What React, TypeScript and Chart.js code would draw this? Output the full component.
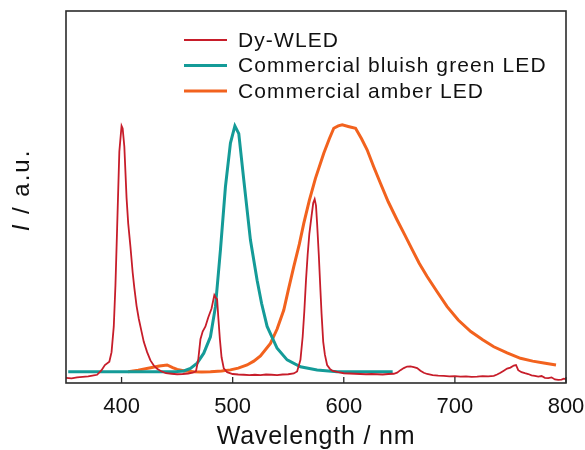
import React, { useEffect, useRef } from "react";
import { Chart, registerables } from "chart.js";

Chart.register(...registerables);

// ---------- data ----------
const xTickValues = [400, 500, 600, 700, 800];
const seriesLabels = ["Dy-WLED", "Commercial bluish green LED", "Commercial amber LED"];
const xTitle = "Wavelength / nm";
const yTitleItalic = "I";
const yTitleRest = " / a.u.";

const dyWavelength = [
  350, 355, 360, 365, 370, 375, 378, 382, 385, 389, 391, 393, 394.5, 396, 398, 400, 401, 402.5, 404.5, 406,
  408, 410, 411.5, 413.5, 415.5, 418, 420, 423, 426, 429, 432, 436, 440, 445, 450, 455, 460, 464, 467, 469,
  471, 473, 475.5, 478, 481, 483.5, 485, 486, 487, 488.5, 490, 492, 495, 500, 505, 510, 515, 520, 525, 530,
  535, 540, 545, 550, 555, 558, 561, 563, 564.5, 566, 567.5, 569, 571, 572.5, 573.8, 575, 576, 577.5, 579, 580,
  581.5, 583, 585, 587.5, 590, 595, 600, 605, 610, 615, 620, 625, 630, 635, 640, 645, 648, 651, 654, 657,
  660, 663, 666, 669, 672, 675, 680, 685, 690, 695, 700, 705, 710, 715, 720, 725, 730, 735, 738, 741,
  744, 747, 750, 753, 755, 757, 760, 763, 766, 769, 772, 775, 778, 781, 784, 787, 790, 793, 796, 798, 800,
];
const dyIntensity = [
  0.020, 0.018, 0.022, 0.024, 0.026, 0.030, 0.032, 0.050, 0.070, 0.083, 0.120, 0.220, 0.380, 0.600, 0.900, 1.000, 0.990, 0.920, 0.720, 0.620,
  0.530, 0.430, 0.370, 0.300, 0.250, 0.200, 0.160, 0.120, 0.088, 0.068, 0.055, 0.045, 0.038, 0.036, 0.034, 0.035, 0.037, 0.040, 0.046, 0.090,
  0.170, 0.200, 0.220, 0.255, 0.290, 0.342, 0.330, 0.326, 0.260, 0.170, 0.100, 0.057, 0.042, 0.035, 0.033, 0.032, 0.031, 0.032, 0.031, 0.033,
  0.032, 0.031, 0.033, 0.034, 0.037, 0.045, 0.090, 0.180, 0.280, 0.400, 0.500, 0.580, 0.650, 0.700, 0.715, 0.690, 0.620, 0.500, 0.360, 0.270,
  0.160, 0.110, 0.070, 0.055, 0.047, 0.042, 0.038, 0.037, 0.036, 0.035, 0.034, 0.035, 0.034, 0.033, 0.035, 0.036, 0.040, 0.050, 0.058, 0.064,
  0.065, 0.062, 0.058, 0.048, 0.040, 0.035, 0.031, 0.029, 0.028, 0.026, 0.027, 0.025, 0.026, 0.024, 0.025, 0.027, 0.026, 0.028, 0.033, 0.040,
  0.048, 0.056, 0.060, 0.068, 0.070, 0.050, 0.042, 0.038, 0.035, 0.030, 0.028, 0.025, 0.027, 0.020, 0.019, 0.022, 0.014, 0.012, 0.013, 0.017, 0.015,
];

const greenWavelength = [
  352, 360, 370, 380, 390, 400, 410, 420, 430, 440, 450, 456, 462, 468, 474, 480, 484.5, 489, 493.5, 498,
  502, 505.5, 510, 516, 522, 526, 531, 540, 549, 561, 576, 594, 610, 625, 644,
];
const greenIntensity = [
  0.044, 0.044, 0.044, 0.044, 0.044, 0.044, 0.044, 0.044, 0.044, 0.044, 0.045, 0.047, 0.057, 0.077, 0.116, 0.180, 0.297, 0.518, 0.764, 0.933,
  1.000, 0.970, 0.790, 0.556, 0.400, 0.310, 0.220, 0.135, 0.090, 0.063, 0.051, 0.044, 0.044, 0.044, 0.044,
];

const amberWavelength = [
  406, 415, 425, 434, 441, 446, 450, 457, 465, 472, 480, 490, 498, 505, 513, 519, 525, 534, 540, 546,
  550, 555, 560, 564, 569, 574.5, 582, 587, 591, 595, 598.6, 604, 610.6, 616, 621, 627, 633, 640, 648, 655,
  661.7, 668, 675, 684, 693, 703, 714.3, 725, 735, 747, 759, 770, 780, 791,
];
const amberIntensity = [
  0.044, 0.050, 0.058, 0.066, 0.070, 0.060, 0.053, 0.047, 0.044, 0.043, 0.044, 0.047, 0.051, 0.058, 0.070, 0.085, 0.105, 0.154, 0.210, 0.284,
  0.360, 0.453, 0.540, 0.621, 0.710, 0.796, 0.894, 0.950, 0.991, 1.000, 1.004, 0.998, 0.991, 0.950, 0.907, 0.840, 0.777, 0.705, 0.634, 0.575,
  0.518, 0.465, 0.414, 0.355, 0.297, 0.245, 0.200, 0.168, 0.141, 0.117, 0.096, 0.085, 0.078, 0.070,
];

// ---------- styles ----------
const COLORS = ["#c71d2a", "#149b98", "#f2621e"];
const WIDTHS = [1.8, 3, 3];
const FONT = "'Liberation Sans', Arial, Helvetica, sans-serif";
const FRAME = "#2b2b2b";

const zip = (xs: number[], ys: number[]) => xs.map((x, i) => ({ x, y: ys[i] }));

const decorPlugin = {
  id: "decor",
  afterDraw(chart: any) {
    const { ctx, chartArea: a, scales } = chart;
    ctx.save();
    // frame
    ctx.strokeStyle = FRAME;
    ctx.lineWidth = 1.6;
    ctx.strokeRect(a.left, a.top, a.right - a.left, a.bottom - a.top);
    // inner ticks
    const xs = scales.x;
    ctx.lineWidth = 1.3;
    xs.ticks.forEach((t: any) => {
      const px = xs.getPixelForValue(t.value);
      ctx.beginPath();
      ctx.moveTo(px, a.bottom);
      ctx.lineTo(px, a.bottom - 6);
      ctx.stroke();
    });
    // legend
    ctx.textBaseline = "middle";
    ctx.textAlign = "left";
    ctx.font = `21px ${FONT}`;
    (ctx as any).letterSpacing = "1.1px";
    ctx.fillStyle = "#111";
    chart.data.datasets.forEach((ds: any, i: number) => {
      const y = a.top + 29 + i * 25.5;
      ctx.strokeStyle = ds.borderColor;
      ctx.lineWidth = ds.borderWidth;
      ctx.beginPath();
      ctx.moveTo(a.left + 118, y);
      ctx.lineTo(a.left + 161, y);
      ctx.stroke();
      ctx.fillText(ds.label, a.left + 172, y + 1);
    });
    // x title
    ctx.textAlign = "center";
    ctx.font = `25px ${FONT}`;
    (ctx as any).letterSpacing = "0.8px";
    ctx.fillText(xTitle, (a.left + a.right) / 2, 437);
    // y title (rotated, italic I)
    ctx.translate(22, 190);
    ctx.rotate(-Math.PI / 2);
    ctx.textAlign = "left";
    (ctx as any).letterSpacing = "2px";
    ctx.font = `italic 24px ${FONT}`;
    const w1 = ctx.measureText(yTitleItalic).width;
    ctx.font = `24px ${FONT}`;
    const w2 = ctx.measureText(yTitleRest).width;
    const start = -(w1 + w2) / 2;
    ctx.font = `italic 24px ${FONT}`;
    ctx.fillText(yTitleItalic, start, 0);
    ctx.font = `24px ${FONT}`;
    ctx.fillText(yTitleRest, start + w1, 0);
    ctx.restore();
  },
};

export default function App() {
  const ref = useRef<HTMLCanvasElement | null>(null);
  useEffect(() => {
    if (!ref.current) return;
    const datasets = [
      zip(dyWavelength, dyIntensity),
      zip(greenWavelength, greenIntensity),
      zip(amberWavelength, amberIntensity),
    ].map((data, i) => ({
      label: seriesLabels[i],
      data,
      borderColor: COLORS[i],
      backgroundColor: COLORS[i],
      borderWidth: WIDTHS[i],
      pointRadius: 0,
      tension: 0,
      fill: false,
    }));
    const chart = new Chart(ref.current, {
      type: "line",
      data: { datasets },
      plugins: [decorPlugin],
      options: {
        animation: false,
        responsive: true,
        maintainAspectRatio: false,
        layout: { padding: { left: 0, right: 19, top: 11, bottom: 0 } },
        plugins: { legend: { display: false }, tooltip: { enabled: false } },
        scales: {
          x: {
            type: "linear",
            min: 350,
            max: 800,
            grid: { display: false, drawTicks: false },
            border: { display: false },
            afterBuildTicks: (s: any) => {
              s.ticks = xTickValues.map((v) => ({ value: v }));
            },
            afterFit: (s: any) => {
              s.height = 67;
              s.paddingLeft = 0;
              s.paddingRight = 0;
            },
            ticks: {
              autoSkip: false,
              maxRotation: 0,
              padding: 11,
              color: "#111",
              font: { family: FONT, size: 22 },
            },
          },
          y: {
            min: 0,
            max: 1.447,
            grid: { display: false, drawTicks: false },
            border: { display: false },
            ticks: { display: false },
            afterFit: (s: any) => {
              s.width = 66;
              s.paddingTop = 0;
              s.paddingBottom = 0;
            },
          },
        },
      } as any,
    });
    return () => chart.destroy();
  }, []);
  return (
    <div style={{ position: "absolute", left: 0, top: 0, width: 585, height: 450, background: "#fff" }}>
      <canvas ref={ref} />
    </div>
  );
}
